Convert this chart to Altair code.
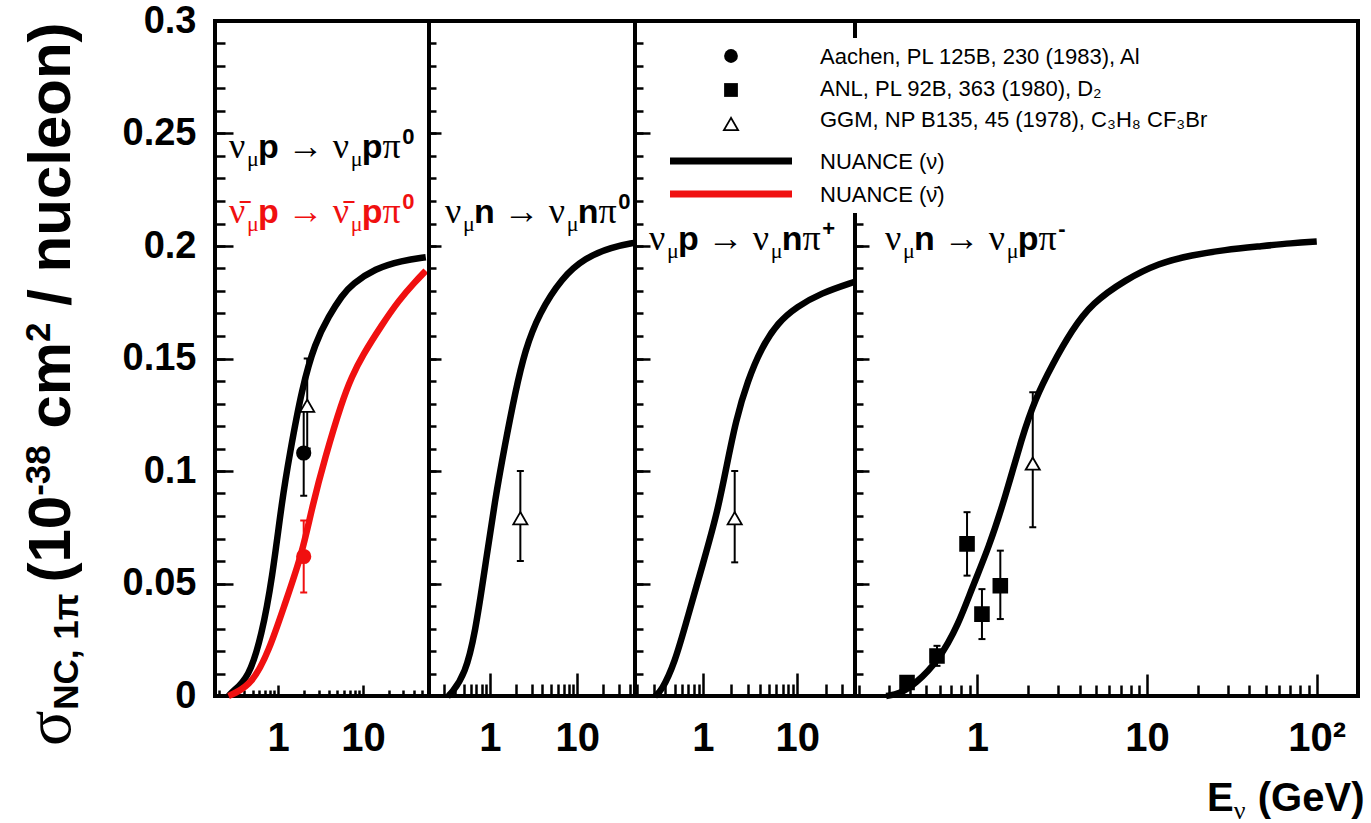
import altair as alt
import pandas as pd

# ------------------------------------------------------------------ data
# NUANCE curves (E in GeV, sigma in 1e-38 cm^2 / nucleon)
P1_NU_E = [0.26, 0.29, 0.45, 0.64, 0.85, 1.11, 1.36, 1.91, 2.72, 3.97, 5.66, 7.4, 13.9, 28.8, 55.0]
P1_NU_S = [0.0, 0.002, 0.008, 0.027, 0.052, 0.087, 0.107, 0.137, 0.157, 0.169, 0.178, 0.183, 0.190, 0.1935, 0.195]
P1_NUBAR_E = [0.26, 0.30, 0.49, 0.78, 1.20, 1.91, 2.51, 3.57, 5.66, 7.4, 9.73, 16.7, 26.6, 41.0, 55.0]
P1_NUBAR_S = [0.0, 0.001, 0.0053, 0.020, 0.041, 0.063, 0.084, 0.106, 0.131, 0.142, 0.151, 0.165, 0.176, 0.184, 0.189]
P2_E = [0.33, 0.36, 0.52, 0.674, 0.877, 1.14, 1.49, 1.94, 2.52, 3.65, 6.7, 12.3, 25.0, 45.0]
P2_S = [0.0, 0.001, 0.0098, 0.0276, 0.057, 0.087, 0.112, 0.1346, 0.1537, 0.170, 0.186, 0.1947, 0.1996, 0.2014]
P3_E = [0.31, 0.36, 0.50, 0.703, 1.0, 1.41, 1.77, 2.23, 2.97, 4.2, 6.24, 9.9, 17.7, 40.0]
P3_S = [0.0, 0.002, 0.0143, 0.0365, 0.0588, 0.081, 0.1016, 0.1225, 0.140, 0.155, 0.166, 0.173, 0.179, 0.184]
P4_E = [0.29, 0.35, 0.43, 0.59, 0.776, 0.929, 1.167, 1.455, 1.83, 2.19, 2.75, 3.61, 4.74, 7.45,
        11.7, 18.4, 28.8, 45.6, 71.5, 100.0]
P4_S = [0.0, 0.001, 0.0053, 0.0156, 0.032, 0.048, 0.066, 0.088, 0.115, 0.132, 0.147, 0.1627, 0.1746, 0.185,
        0.1924, 0.196, 0.1983, 0.1998, 0.2013, 0.202]

# Aachen (circles): panel 1, neutrino (black) and antineutrino (red)
AACHEN_E = [2.0, 2.0]
AACHEN_S = [0.108, 0.062]
AACHEN_LO = [0.089, 0.046]
AACHEN_HI = [0.128, 0.078]

# GGM (open triangles), one per panel
GGM_E = [2.2, 2.23, 2.17, 2.12]
GGM_S = [0.129, 0.079, 0.079, 0.1033]
GGM_LO = [0.110, 0.060, 0.0594, 0.075]
GGM_HI = [0.150, 0.100, 0.100, 0.135]

# ANL (squares), panel 4
ANL_E = [0.385, 0.578, 0.869, 1.064, 1.365]
ANL_S = [0.006, 0.0178, 0.0676, 0.0364, 0.049]
ANL_LO = [0.004, 0.0134, 0.0535, 0.0253, 0.0342]
ANL_HI = [0.008, 0.0223, 0.0817, 0.0475, 0.0646]

Y_MAJOR = [0, 0.05, 0.1, 0.15, 0.2, 0.25, 0.3]
Y_MINOR = [round(i * 0.01, 2) for i in range(31)]
X_DOMAINS = [[0.18, 60], [0.2, 46], [0.19, 41], [0.19, 175]]
X_MAJOR = [[1, 10], [1, 10], [1, 10], [1, 10, 100]]
LEGEND_TEXT = ["Aachen, PL 125B, 230 (1983), Al",
               "ANL, PL 92B, 363 (1980), D₂",
               "GGM, NP B135, 45 (1978), C₃H₈ CF₃Br",
               "NUANCE (ν)",
               "NUANCE (ν̄)"]

# ------------------------------------------------------------------ layout / style
WIDTHS = [214, 206, 220, 503]
H = 675
X_MAJ_LEN = [11, 23, 23, 22]
X_MIN_LEN = [6, 12, 12, 11]
Y_MAJ_LEN = [18, 12, 15, 14]
Y_MIN_LEN = [10, 7, 8, 8]
SANS = "Liberation Sans"
SERIF = "Liberation Serif"
RED = "#f01010"
ONE = pd.DataFrame({"k": [0]})

W_SANS_B = {" ": .278, "(": .333, ")": .333, "/": .278, ",": .278, "-": .333, "+": .584,
            "a": .556, "c": .556, "e": .556, "l": .278, "m": .889, "n": .611, "o": .611, "p": .611,
            "u": .611, "C": .722, "E": .667, "G": .778, "N": .722, "V": .667, "π": .6}
for d in "0123456789":
    W_SANS_B[d] = .556
W_SERIF = {" ": .25, "ν": .5, "μ": .5, "π": .55, "→": 1.0, "σ": .55, "\u0304": 0.0}


def adv(text, font, size):
    table = W_SERIF if font == SERIF else W_SANS_B
    return sum(table.get(ch, 0.6) for ch in text) * size


def txt(text, x, y, size, font=SANS, weight="bold", color="black", angle=None):
    kw = dict(text=text, font=font, fontSize=size, fontWeight=weight, color=color,
              align="left", baseline="alphabetic")
    if angle is not None:
        kw["angle"] = angle
    return alt.Chart(ONE).mark_text(**kw).encode(x=alt.value(x), y=alt.value(y))


def seq(x0, y0, parts, color="black", vertical=False):
    """Place text pieces one after another (SVG drops leading/trailing spaces, so
    spaces are turned into explicit advances)."""
    out, pos = [], 0.0
    for text, font, weight, size, shift in parts:
        core = text.strip(" ")
        lead = adv(text[:len(text) - len(text.lstrip(" "))], font, size)
        p = pos + lead
        if vertical:
            out.append(txt(core, x0 + shift, y0 - p, size, font, weight, color, angle=270))
        else:
            out.append(txt(core, x0 + p, y0 + shift, size, font, weight, color))
        pos += adv(text, font, size)
    return out


def reaction(a, b, sup, bar=False):
    nu = "ν\u0304" if bar else "ν"
    G, S, s = 36, 34, 22
    return [(nu, SERIF, "normal", G, 0), ("μ", SERIF, "normal", s, 8), (a, SANS, "bold", S, 0),
            (" → ", SERIF, "normal", G, 0), (nu, SERIF, "normal", G, 0), ("μ", SERIF, "normal", s, 8),
            (b, SANS, "bold", S, 0), ("π", SERIF, "normal", G, 0), (sup, SANS, "bold", s, -14)]


def x_axes(i):
    dom = X_DOMAINS[i]
    minors = [m * 10 ** k for k in (-1, 0, 1, 2) for m in range(2, 10)]
    minors = [v for v in minors if dom[0] < v < dom[1]]
    major = alt.Axis(orient="bottom", values=X_MAJOR[i], tickSize=X_MAJ_LEN[i], offset=-X_MAJ_LEN[i],
                     domain=False, grid=False, title=None, labelFont=SANS, labelFontWeight="bold",
                     labelFontSize=40, labelColor="black", labelPadding=22, tickWidth=2.5,
                     tickColor="black", labelFlush=False, labelOverlap=False,
                     labelExpr="datum.value >= 100 ? '10²' : (datum.value >= 10 ? '10' : '1')")
    minor = alt.Axis(orient="bottom", values=minors, tickSize=X_MIN_LEN[i], offset=-X_MIN_LEN[i],
                     domain=False, grid=False, title=None, labels=False, tickWidth=2.5,
                     tickColor="black")
    return major, minor


def y_axes(i):
    major = alt.Axis(orient="left", values=Y_MAJOR, tickSize=Y_MAJ_LEN[i], offset=-Y_MAJ_LEN[i],
                     domain=False, grid=False, title=None, labels=(i == 0), labelFont=SANS,
                     labelFontWeight="bold", labelFontSize=38, labelColor="black", labelPadding=19,
                     tickWidth=2.5, tickColor="black", labelFlush=False, labelOverlap=False,
                     labelExpr="datum.value == 0 ? '0' : format(datum.value, '.2~f')")
    minor = alt.Axis(orient="left", values=Y_MINOR, tickSize=Y_MIN_LEN[i], offset=-Y_MIN_LEN[i],
                     domain=False, grid=False, title=None, labels=False, tickWidth=2.5,
                     tickColor="black")
    return major, minor


def panel(i, curves, point_sets, annotations):
    xs = alt.Scale(type="log", domain=X_DOMAINS[i], nice=False)
    ys = alt.Scale(domain=[0, 0.3], nice=False, zero=False)
    xmaj, xmin = x_axes(i)
    ymaj, ymin = y_axes(i)
    layers = []
    first = True
    for E, S, color in curves:
        df = pd.DataFrame({"E": E, "s": S})
        layers.append(alt.Chart(df).mark_line(color=color, strokeWidth=6.5, interpolate="basis").encode(
            x=alt.X("E:Q", scale=xs, axis=xmaj if first else None),
            y=alt.Y("s:Q", scale=ys, axis=ymaj if first else None)))
        if first:
            layers.append(alt.Chart(df).mark_point(opacity=0).encode(
                x=alt.X("E:Q", scale=xs, axis=xmin), y=alt.Y("s:Q", scale=ys, axis=ymin)))
        first = False
    for df, shape, color, fill, size in point_sets:
        ex = alt.X("E:Q", scale=xs, axis=None)
        layers.append(alt.Chart(df).mark_rule(color=color, strokeWidth=2).encode(
            x=ex, y=alt.Y("lo:Q", scale=ys, axis=None), y2="hi:Q"))
        for f in ("lo", "hi"):
            layers.append(alt.Chart(df).mark_tick(color=color, orient="horizontal", size=7, thickness=2,
                                                  opacity=1).encode(
                x=ex, y=alt.Y(f + ":Q", scale=ys, axis=None)))
        layers.append(alt.Chart(df).mark_point(shape=shape, filled=True, fill=fill, stroke=color,
                                               strokeWidth=1.8, size=size, opacity=1).encode(
            x=ex, y=alt.Y("s:Q", scale=ys, axis=None)))
    layers += annotations
    return alt.layer(*layers).resolve_axis(x="independent", y="independent").properties(
        width=WIDTHS[i], height=H)


def pts(E, S, LO, HI):
    return pd.DataFrame({"E": E, "s": S, "lo": LO, "hi": HI})


# ------------------------------------------------------------------ panels
aachen_nu = pts(AACHEN_E[:1], AACHEN_S[:1], AACHEN_LO[:1], AACHEN_HI[:1])
aachen_nubar = pts(AACHEN_E[1:], AACHEN_S[1:], AACHEN_LO[1:], AACHEN_HI[1:])
ggm = [pts([GGM_E[k]], [GGM_S[k]], [GGM_LO[k]], [GGM_HI[k]]) for k in range(4)]
anl = pts(ANL_E, ANL_S, ANL_LO, ANL_HI)

TRI = ("triangle-up", "black", "white", 200)

# y-axis title (rotated, composed of pieces), placed left of panel 1
ytitle = seq(-145, 725, [("σ", SERIF, "normal", 66, 0), ("NC, 1π", SANS, "bold", 35, 8),
                         (" (10", SANS, "bold", 60, 0), ("-38", SANS, "bold", 35, -20),
                         (" cm", SANS, "bold", 60, 0), ("2", SANS, "bold", 35, -20),
                         (" / nucleon)", SANS, "bold", 60, 0)], vertical=True)

p1 = panel(0, [(P1_NU_E, P1_NU_S, "black"), (P1_NUBAR_E, P1_NUBAR_S, RED)],
           [(aachen_nu, "circle", "black", "black", 180),
            (ggm[0],) + TRI,
            (aachen_nubar, "circle", RED, RED, 180)],
           seq(14, 137, reaction("p", "p", "0")) +
           seq(14, 202, reaction("p", "p", "0", bar=True), color=RED) + ytitle)

p2 = panel(1, [(P2_E, P2_S, "black")], [(ggm[1],) + TRI],
           seq(16, 202, reaction("n", "n", "0")))

p3 = panel(2, [(P3_E, P3_S, "black")], [(ggm[2],) + TRI],
           seq(14, 229, reaction("p", "n", "+")))

# legend: drawn in panel 4 (on top of the 3|4 divider, which it hides), coordinates relative to panel 4
legend = [
    alt.Chart(ONE).mark_rect(color="white").encode(
        x=alt.value(-190), x2=alt.value(360), y=alt.value(17), y2=alt.value(192)),
    alt.Chart(ONE).mark_point(shape="circle", filled=True, color="black", size=190, opacity=1).encode(
        x=alt.value(-124), y=alt.value(35)),
    alt.Chart(ONE).mark_point(shape="square", filled=True, color="black", size=190, opacity=1).encode(
        x=alt.value(-124), y=alt.value(69)),
    alt.Chart(ONE).mark_point(shape="triangle-up", filled=True, fill="white", stroke="black",
                              strokeWidth=1.8, size=200, opacity=1).encode(
        x=alt.value(-124), y=alt.value(103)),
    alt.Chart(ONE).mark_rule(color="black", strokeWidth=7).encode(
        x=alt.value(-185), x2=alt.value(-63), y=alt.value(140)),
    alt.Chart(ONE).mark_rule(color=RED, strokeWidth=7).encode(
        x=alt.value(-185), x2=alt.value(-63), y=alt.value(173)),
]
for k, yb in enumerate([43, 75, 106, 148, 181]):
    legend.append(txt(LEGEND_TEXT[k], -35, yb, 22, SANS, "normal"))

xtitle = seq(352, 790, [("E", SANS, "bold", 40, 0), ("ν", SERIF, "normal", 26, 8),
                        (" (GeV)", SANS, "bold", 40, 0)])
p4 = panel(3, [(P4_E, P4_S, "black")],
           [(anl, "square", "black", "black", 190), (ggm[3],) + TRI],
           legend + seq(30, 229, reaction("n", "p", "-")) + xtitle)

chart = alt.hconcat(p1, p2, p3, p4, spacing=0, bounds="flush").properties(
    padding={"left": 15, "top": 0, "right": 2, "bottom": 2},
    background="white",
).configure_view(stroke="black", strokeWidth=4).configure_concat(spacing=0)

chart.save("out.html", embed_options={"renderer": "svg", "actions": False})
